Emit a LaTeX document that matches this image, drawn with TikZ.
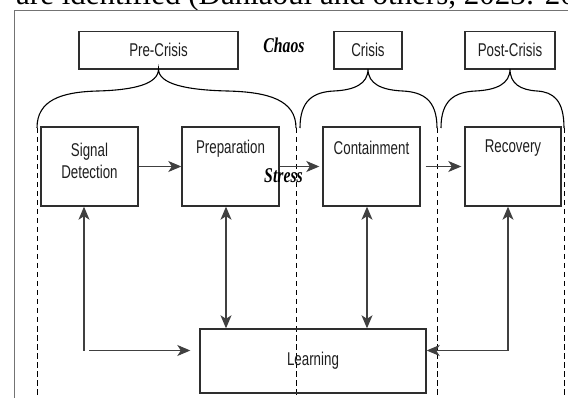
\documentclass[tikz,border=0pt]{standalone}
\usepackage{fontspec}
\setmainfont{Liberation Serif}
\newfontfamily\narrowsans[FakeStretch=0.72]{Liberation Sans}
\newfontfamily\narrowserif[FakeStretch=0.75]{Liberation Serif}
\usetikzlibrary{arrows.meta}
\definecolor{boxline}{HTML}{2E2E2E}
\definecolor{conline}{HTML}{404040}
\definecolor{txt}{HTML}{1E1E1E}
\tikzset{
  box/.style={draw=boxline, line width=1.4pt, inner sep=0pt},
  lbl/.style={font=\narrowsans\fontsize{18.5}{21.5}\selectfont, text=txt, align=center, inner sep=0pt},
  emph/.style={font=\narrowserif\bfseries\itshape\fontsize{21}{24}\selectfont, text=black, inner sep=0pt},
  tip/.style={Stealth[length=13pt,width=11pt,inset=3.5pt]},
  conn/.style={draw=conline, line width=1.15pt, -{Stealth[length=13pt,width=11pt,inset=3.5pt]}},
  bconn/.style={draw=conline, line width=1.15pt, {Stealth[length=13pt,width=11pt,inset=3.5pt]}-{Stealth[length=13pt,width=11pt,inset=3.5pt]}},
  divider/.style={draw=black, line width=1pt, dash pattern=on 5.5pt off 3.5pt},
  bracesty/.style={draw=black, line width=1.1pt},
  framesty/.style={draw=black!55, line width=1pt}
}
\newcommand\mybrace[3]{%
 \pgfmathsetmacro\bA{#1}\pgfmathsetmacro\bT{#2}\pgfmathsetmacro\bB{#3}%
 \pgfmathsetmacro\mA{(\bA+\bT)/2}\pgfmathsetmacro\mB{(\bT+\bB)/2}%
 \pgfmathsetmacro\hA{\bT-\bA}\pgfmathsetmacro\hB{\bB-\bT}%
 \pgfmathsetmacro\cA{\bA+0.2*\hA}\pgfmathsetmacro\dA{\bT-0.2*\hA}%
 \pgfmathsetmacro\cB{\bT+0.2*\hB}\pgfmathsetmacro\dB{\bB-0.2*\hB}%
 \draw[bracesty] (\bA,128) .. controls (\bA,100) and (\cA,92) .. (\mA,91)
   .. controls (\dA,90) and (\bT,84) .. (\bT,69)
   .. controls (\bT,84) and (\cB,90) .. (\mB,91)
   .. controls (\dB,92) and (\bB,100) .. (\bB,128);}
\begin{document}
\begin{tikzpicture}[x=1pt,y=-1pt]
\useasboundingbox (0,0) rectangle (568,398);
\clip (0,0) rectangle (568,398);
% cut-off text line above the figure
\node[anchor=base west, inner sep=0pt, font=\fontsize{31}{31}\selectfont] (toptext) at (16,5) {are identified (Dahlaoui and others, 2023: 20};
% frame
\draw[framesty] (14.5,398) -- (14.5,11) -- (568,11);
% phase boxes
\node[box, minimum width=159pt, minimum height=37.5pt] (pre) at (158.5,50.25) {};
\node[lbl] at (pre) {Pre-Crisis};
\node[box, minimum width=68pt, minimum height=37.5pt] (cri) at (368,50.25) {};
\node[lbl] at (cri) {Crisis};
\node[box, minimum width=90pt, minimum height=37.5pt] (post) at (510,50.25) {};
\node[lbl] at (post) {Post-Crisis};
\node[emph] (chaos) at (284,45) {Chaos};
% braces
\mybrace{37}{158.5}{296}
\mybrace{300}{368}{437}
\mybrace{441}{510}{564}
% dashed dividers
\draw[divider] (37,128) -- (37,398);
\draw[divider] (296,128) -- (296,398);
\draw[divider] (437,128) -- (437,398);
\draw[divider] (564,128) -- (564,398);
% stage boxes
\node[box, minimum width=97pt, minimum height=79pt] (sd) at (89.5,166.5) {};
\node[lbl] at ([yshift=-34.5pt]sd.north) {Signal\\Detection};
\node[box, minimum width=97pt, minimum height=79pt] (prep) at (230.5,166.5) {};
\node[lbl] at ([yshift=-22pt]prep.north) {Preparation};
\node[box, minimum width=97pt, minimum height=79pt] (cont) at (371.5,166.5) {};
\node[lbl] at ([yshift=-22pt]cont.north) {Containment};
\node[box, minimum width=96pt, minimum height=79pt] (rec) at (513,166.5) {};
\node[lbl] at ([yshift=-22pt]rec.north) {Recovery};
\node[box, minimum width=226pt, minimum height=64pt] (learn) at (313,361) {};
\node[lbl] at (learn) {Learning};
\node[emph] (stress) at (283.5,176) {Stress};
% horizontal flow
\draw[conn] (sd.east) -- (prep.west);
\draw[conn, shorten >=3pt] (prep.east) -- (cont.west);
\draw[conn, shorten <=5pt, shorten >=3pt] (cont.east) -- (rec.west);
% learning loops
\coordinate (lc) at (84,350.5);
\coordinate (lh) at (89,350.5);
\draw[conn] (lc) -- (lc |- sd.south);
\draw[conn, shorten >=9pt] (lh) -- (lh -| learn.west);
\draw[bconn] ([xshift=-4.5pt]prep.south) -- ([xshift=-4.5pt]prep.south |- learn.north);
\draw[bconn] ([xshift=-4.5pt]cont.south) -- ([xshift=-4.5pt]cont.south |- learn.north);
\draw[bconn] ([xshift=-5pt]rec.south) |- ([yshift=10.5pt]learn.east);
\end{tikzpicture}
\end{document}
